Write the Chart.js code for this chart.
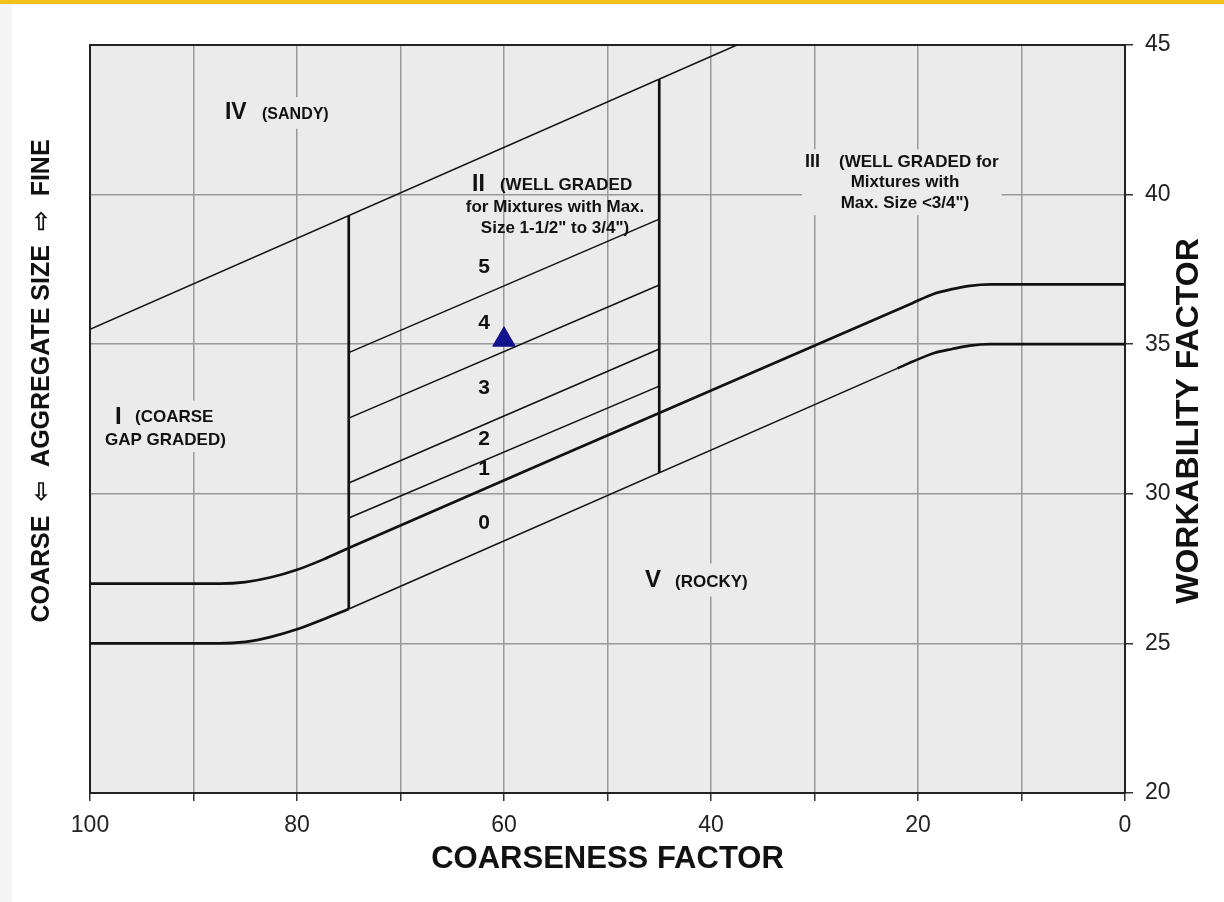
<!DOCTYPE html>
<html><head><meta charset="utf-8">
<script src="https://cdn.jsdelivr.net/npm/chart.js@4.4.0/dist/chart.umd.min.js"></script>
<style>html,body{margin:0;padding:0;background:#fff;}canvas{display:block;}</style>
</head><body>
<canvas id="c" width="1224" height="902"></canvas>
<script>
// ---- data (coarseness factor x, workability factor y) ----
const xTickValues = [100, 90, 80, 70, 60, 50, 40, 30, 20, 10, 0];
const yTickValues = [20, 25, 30, 35, 40, 45];
const sandyBoundary = [{x:100,y:35.5},{x:37.5,y:45}];
const mainTrend = [{x:100,y:27},{x:87.5,y:27},{x:85,y:27.05},{x:82.5,y:27.21},{x:80,y:27.46},{x:77.5,y:27.8},{x:75,y:28.19},{x:45,y:32.7},{x:20.5,y:36.38},{x:18.5,y:36.68},{x:16.7,y:36.84},{x:15,y:36.95},{x:13,y:37},{x:0,y:37}];
const lowerTrendLeft = [{x:100,y:25},{x:87.5,y:25},{x:85,y:25.05},{x:82.5,y:25.22},{x:80,y:25.47},{x:77.5,y:25.8},{x:75,y:26.15}];
const lowerTrendMid = [{x:75,y:26.15},{x:22,y:34.19}];
const lowerTrendRight = [{x:22,y:34.19},{x:20.5,y:34.42},{x:18.5,y:34.7},{x:16.7,y:34.84},{x:15,y:34.95},{x:13,y:35},{x:0,y:35}];
const zoneIILeftEdge = [{x:75,y:39.3},{x:75,y:26.15}];
const zoneIIRightEdge = [{x:45,y:43.86},{x:45,y:30.7}];
const zone45Line = [{x:75,y:34.72},{x:45,y:39.18}];
const zone34Line = [{x:75,y:32.53},{x:45,y:36.98}];
const zone23Line = [{x:75,y:30.36},{x:45,y:34.84}];
const zone12Line = [{x:75,y:29.19},{x:45,y:33.6}];
const mixPoint = [{x:60,y:35.15}];
const zoneNumbers = ['5','4','3','2','1','0'];
const zoneNumberY = [37.58, 35.71, 33.54, 31.83, 30.83, 29.02];
const zoneNumberX = 61.93;

// ---- annotation texts (anchored in data units) ----
const regionLabels = [
  {bg:true, parts:[{t:'IV',x:86.96,y:42.73,s:23},{t:'(SANDY)',x:83.38,y:42.66,s:16}]},
  {bg:false, parts:[{t:'II',x:63.09,y:40.32,s:23},{t:'(WELL GRADED',x:60.39,y:40.32,s:17},
    {t:'for Mixtures with Max.',x:55.07,y:39.59,s:17,c:true},{t:'Size 1-1/2" to 3/4")',x:55.07,y:38.88,s:17,c:true}]},
  {bg:true, parts:[{t:'III',x:30.92,y:41.09,s:18},{t:'(WELL GRADED for',x:27.63,y:41.09,s:17},
    {t:'Mixtures with',x:21.26,y:40.42,s:17,c:true},{t:'Max. Size <3/4")',x:21.26,y:39.72,s:17,c:true}]},
  {bg:true, parts:[{t:'I',x:97.58,y:32.57,s:24},{t:'(COARSE',x:95.65,y:32.57,s:17},{t:'GAP GRADED)',x:98.55,y:31.8,s:17}]},
  {bg:true, parts:[{t:'V',x:46.38,y:27.12,s:24},{t:'(ROCKY)',x:43.48,y:27.05,s:17}]}
];
const xTitle = 'COARSENESS FACTOR';
const yRightTitle = 'WORKABILITY FACTOR';
const yLeftTitle = 'COARSE  \u21E6  AGGREGATE SIZE  \u21E8  FINE';

const FONT = '"Liberation Sans", Arial, "DejaVu Sans", sans-serif';

function seg(data, w, curved) {
  return {data, showLine:true, borderColor:'#111', borderWidth:w, pointRadius:0, pointHoverRadius:0,
    fill:false, cubicInterpolationMode: curved ? 'monotone' : 'default', tension:0};
}

const decor = {
  id:'decor',
  beforeDraw(chart){
    const {ctx, chartArea:a} = chart;
    ctx.save();
    ctx.fillStyle='#ffffff'; ctx.fillRect(0,0,chart.width,chart.height);
    ctx.fillStyle='#f4f4f4'; ctx.fillRect(0,0,12,chart.height);
    ctx.fillStyle='#f1c21b'; ctx.fillRect(0,0,chart.width,4);
    ctx.fillStyle='#ebebeb'; ctx.fillRect(a.left,a.top,a.right-a.left,a.bottom-a.top);
    ctx.restore();
  },
  beforeDatasetsDraw(chart){
    const {ctx, chartArea:a, scales:{x,y}} = chart;
    ctx.save();
    ctx.textBaseline='middle';
    regionLabels.forEach(g=>{
      if(!g.bg) return;
      let x0=1e9,x1=-1e9,y0=1e9,y1=-1e9;
      g.parts.forEach(p=>{
        ctx.font='bold '+p.s+'px '+FONT;
        const w=ctx.measureText(p.t).width;
        const px=x.getPixelForValue(p.x), py=y.getPixelForValue(p.y);
        const l = p.c ? px-w/2 : px;
        x0=Math.min(x0,l); x1=Math.max(x1,l+w);
        y0=Math.min(y0,py-p.s*0.6); y1=Math.max(y1,py+p.s*0.6);
      });
      ctx.fillStyle='#ebebeb';
      ctx.fillRect(x0-3,y0-2,x1-x0+6,y1-y0+4);
    });
    ctx.strokeStyle='#222'; ctx.lineWidth=2;
    ctx.strokeRect(a.left,a.top,a.right-a.left,a.bottom-a.top);
    ctx.restore();
  },
  afterDatasetsDraw(chart){
    const {ctx, chartArea:a, scales:{x,y}} = chart;
    ctx.save();
    ctx.fillStyle='#111';
    ctx.textBaseline='middle';
    regionLabels.forEach(g=>g.parts.forEach(p=>{
      ctx.font='bold '+p.s+'px '+FONT;
      ctx.textAlign = p.c ? 'center' : 'left';
      ctx.fillText(p.t, x.getPixelForValue(p.x), y.getPixelForValue(p.y));
    }));
    ctx.font='bold 21px '+FONT; ctx.textAlign='center';
    zoneNumbers.forEach((n,i)=>ctx.fillText(n, x.getPixelForValue(zoneNumberX), y.getPixelForValue(zoneNumberY[i])));
    // axis titles
    ctx.font='bold 31px '+FONT; ctx.textAlign='center';
    ctx.fillText(xTitle, (a.left+a.right)/2, 859);
    ctx.save(); ctx.translate(1189, 421); ctx.rotate(-Math.PI/2);
    ctx.font='bold 32px '+FONT;
    ctx.fillText(yRightTitle, 0, 0); ctx.restore();
    ctx.save(); ctx.translate(42, 381); ctx.rotate(-Math.PI/2);
    ctx.font='bold 25px '+FONT; ctx.fillText(yLeftTitle, 0, 0); ctx.restore();
    ctx.restore();
  }
};

new Chart(document.getElementById('c'), {
  type:'scatter',
  data:{datasets:[
    seg(sandyBoundary,1.5,false),
    seg(mainTrend,2.7,true),
    seg(lowerTrendLeft,2.7,true),
    seg(lowerTrendMid,1.5,false),
    seg(lowerTrendRight,2.7,true),
    seg(zoneIILeftEdge,2.7,false),
    seg(zoneIIRightEdge,2.7,false),
    seg(zone45Line,1.5,false),
    seg(zone34Line,1.5,false),
    seg(zone23Line,1.5,false),
    seg(zone12Line,1.5,false),
    {data:mixPoint, showLine:false, pointStyle:'triangle', pointRadius:13, backgroundColor:'#12128c', borderColor:'#12128c', borderWidth:1}
  ]},
  options:{
    responsive:false, animation:false, devicePixelRatio:1,
    layout:{padding:{left:90, top:45, right:0, bottom:0}},
    plugins:{legend:{display:false}, tooltip:{enabled:false}},
    scales:{
      x:{type:'linear', reverse:true, min:0, max:100,
        afterBuildTicks:s=>{s.ticks = xTickValues.map(v=>({value:v}));},
        afterFit:s=>{s.height=109;},
        ticks:{autoSkip:false, maxRotation:0, padding:11, color:'#222', font:{family:FONT, size:23},
          callback:v=> (v%20===0 ? String(v) : '')},
        grid:{color:'#999', lineWidth:1.5, tickLength:8, tickColor:'#333', tickWidth:1.5},
        border:{display:false}},
      y:{type:'linear', position:'right', min:20, max:45,
        afterBuildTicks:s=>{s.ticks = yTickValues.map(v=>({value:v}));},
        afterFit:s=>{s.width=99;},
        ticks:{padding:12, color:'#222', font:{family:FONT, size:23}},
        grid:{color:'#999', lineWidth:1.5, tickLength:8, tickColor:'#333', tickWidth:1.5},
        border:{display:false}}
    }
  },
  plugins:[decor]
});
</script>
</body></html>
